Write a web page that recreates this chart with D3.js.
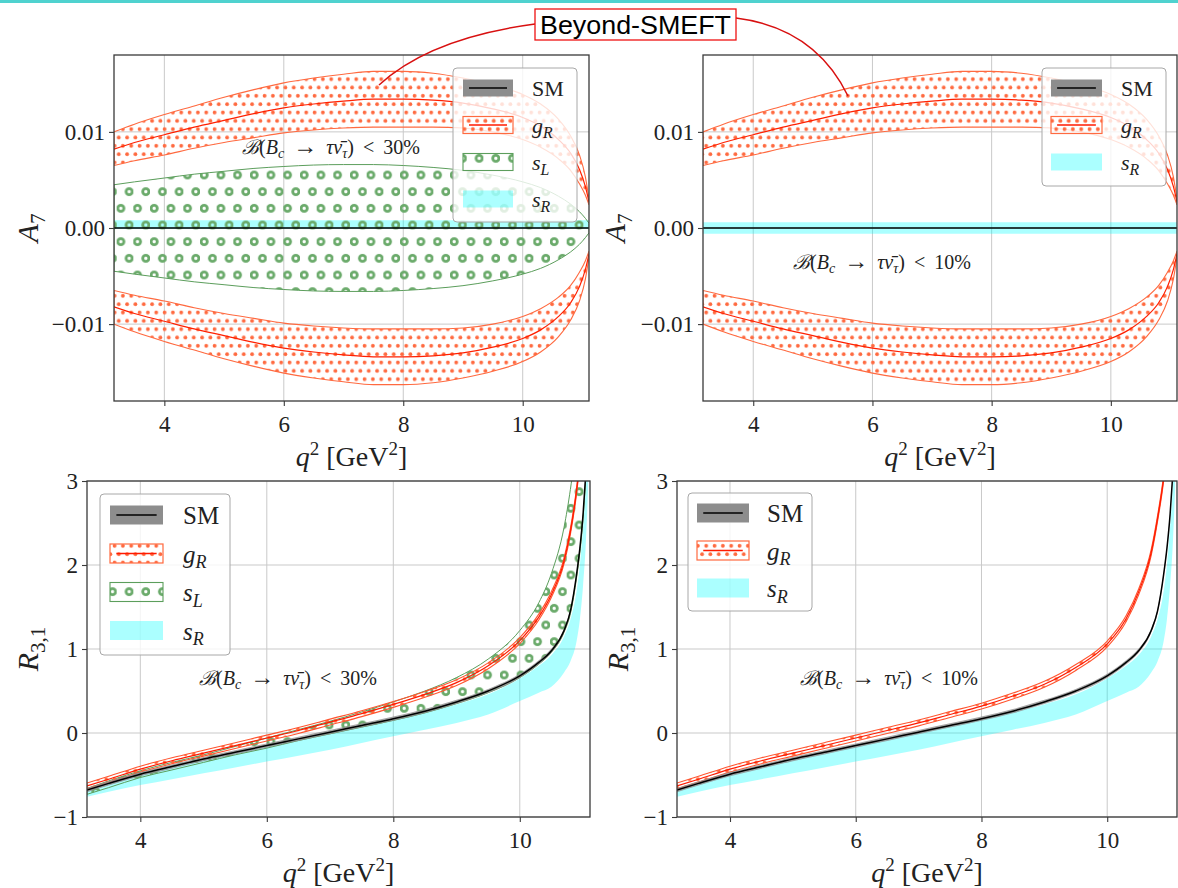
<!DOCTYPE html>
<html><head><meta charset="utf-8">
<script src="https://cdn.jsdelivr.net/npm/d3@7"></script>
<style>
html,body{margin:0;padding:0;background:#fff;}
svg{display:block;}
</style></head>
<body>
<svg id="c" width="1178" height="888"></svg>
<script>
// ---------------- data ----------------
// q^2 grid (GeV^2)
const qA = [3.157,3.5,4,4.5,5,5.5,6,6.5,7,7.5,8,8.5,9,9.5,10,10.3,10.6,10.8,10.95,11.05,11.11];
// A7 (x1e-3), g_R band (upper branch; lower branch is mirrored)
const A7_gR_outer  = [10.0,10.8,11.8,12.7,13.6,14.4,15.1,15.6,16.0,16.3,16.3,16.1,15.6,14.9,13.9,12.9,11.3,9.6,7.6,5.3,3.0];
const A7_gR_inner  = [6.5,7.0,7.6,8.3,8.9,9.4,9.9,10.2,10.4,10.5,10.5,10.5,10.4,10.0,9.2,8.4,7.2,6.0,4.6,3.4,2.4];
const A7_gR_center = [8.2,8.9,9.7,10.5,11.2,11.9,12.5,12.9,13.2,13.4,13.4,13.3,13.0,12.4,11.5,10.6,9.2,7.8,6.1,4.3,2.7];
// A7 s_L band upper edge (x1e-3), lower edge mirrored
const A7_sL_upper  = [4.5,4.8,5.2,5.6,5.9,6.2,6.4,6.55,6.6,6.6,6.5,6.3,6.0,5.5,4.8,4.2,3.3,2.5,1.7,1.0,0.5];
// A7 s_R thin band (x1e-3): [upper, lower]
const A7_sR_TL = [0.8,-0.1];
const A7_sR_TR = [0.6,-0.6];

// R_{3,1}
const qR = [3.157,3.5,4,4.5,5,5.5,6,6.5,7,7.5,8,8.5,9,9.5,10,10.3,10.5,10.7,10.8,10.9,10.95,11.0,11.04,11.08];
const R_SM      = [-0.68,-0.60,-0.49,-0.40,-0.31,-0.23,-0.15,-0.07,0.01,0.09,0.17,0.26,0.37,0.50,0.68,0.84,0.98,1.22,1.45,1.9,2.2,2.6,3.05,3.6];
const R_gR_L    = [-0.63,-0.55,-0.43,-0.33,-0.24,-0.15,-0.06,0.03,0.13,0.23,0.34,0.46,0.60,0.80,1.10,1.38,1.65,2.05,2.40,2.90,3.25,3.7,4.2,4.8];
const R_gR_R    = [-0.63,-0.55,-0.43,-0.33,-0.24,-0.15,-0.06,0.03,0.12,0.22,0.32,0.44,0.58,0.78,1.06,1.36,1.68,2.15,2.55,3.05,3.4,3.9,4.4,5.0];
const R_sL_up   = [-0.66,-0.57,-0.45,-0.35,-0.26,-0.16,-0.06,0.04,0.14,0.25,0.37,0.50,0.66,0.88,1.22,1.55,1.9,2.45,2.9,3.5,3.9,4.4,4.9,5.5];
const R_sL_lo   = [-0.73,-0.65,-0.53,-0.44,-0.35,-0.26,-0.18,-0.09,-0.01,0.07,0.15,0.24,0.35,0.48,0.66,0.82,0.96,1.20,1.42,1.86,2.15,2.55,3.0,3.5];
const R_sR_up   = [-0.69,-0.61,-0.50,-0.41,-0.32,-0.24,-0.16,-0.08,0.0,0.08,0.16,0.25,0.34,0.46,0.65,0.80,0.93,1.15,1.35,1.70,2.0,2.45,2.9,3.5];
const R_sR_lo   = [-0.76,-0.70,-0.62,-0.55,-0.48,-0.41,-0.34,-0.27,-0.20,-0.12,-0.04,0.04,0.12,0.22,0.38,0.48,0.55,0.72,0.85,1.10,1.35,1.75,2.2,2.9];

const xTicks = [4,6,8,10];
const yTicksA = [-0.01,0,0.01];
const yTickLabA = ["\u22120.01","0.00","0.01"];
const yTicksR = [-1,0,1,2,3];
const yTickLabR = ["\u22121","0","1","2","3"];

// ---------------- drawing ----------------
const SERIF = '"Liberation Serif", "DejaVu Serif", serif';
const SANS = '"Liberation Sans", Arial, sans-serif';
const svg = d3.select("#c");
const defs = svg.append("defs");

const dotCol = "#ff6a40";
const ringCol = "#6aaa6a";
function dotPattern(id){
  const p = defs.append("pattern").attr("id",id).attr("patternUnits","userSpaceOnUse")
    .attr("width",8.333).attr("height",16.667);
  [[2.08,4.17],[6.25,12.5]].forEach(c=>p.append("circle").attr("cx",c[0]).attr("cy",c[1]).attr("r",1.9).attr("fill",dotCol));
}
function ringPattern(id){
  const p = defs.append("pattern").attr("id",id).attr("patternUnits","userSpaceOnUse")
    .attr("width",16.667).attr("height",33.333);
  [[4.17,8.33],[12.5,25]].forEach(c=>p.append("circle").attr("cx",c[0]).attr("cy",c[1]).attr("r",3.1)
     .attr("fill","none").attr("stroke",ringCol).attr("stroke-width",2.8));
}
dotPattern("dots"); ringPattern("rings");

svg.append("rect").attr("x",0).attr("y",0).attr("width",1178).attr("height",3).attr("fill","#4fd2cf");

function txt(sel){ return sel.attr("font-family",SERIF).style("font-family",SERIF).style("fill","#222"); }

const xDom = [3.157, 11.11];
function panel(cfg){
  const g = svg.append("g");
  const x = d3.scaleLinear().domain(xDom).range([cfg.l, cfg.r]);
  const y = d3.scaleLinear().domain(cfg.yDom).range([cfg.b, cfg.t]);
  const cid = cfg.id+"clip";
  defs.append("clipPath").attr("id",cid).append("rect")
    .attr("x",cfg.l).attr("y",cfg.t).attr("width",cfg.r-cfg.l).attr("height",cfg.b-cfg.t);
  const grid = g.append("g");
  xTicks.forEach(v=>grid.append("line").attr("x1",x(v)).attr("x2",x(v)).attr("y1",cfg.t).attr("y2",cfg.b)
      .attr("stroke","#c9c9c9").attr("stroke-width",1));
  cfg.yTicks.forEach(v=>grid.append("line").attr("y1",y(v)).attr("y2",y(v)).attr("x1",cfg.l).attr("x2",cfg.r)
      .attr("stroke","#c9c9c9").attr("stroke-width",1));
  const plot = g.append("g").attr("clip-path",`url(#${cid})`);
  cfg.draw(plot, x, y);
  g.append("rect").attr("x",cfg.l).attr("y",cfg.t).attr("width",cfg.r-cfg.l).attr("height",cfg.b-cfg.t)
    .attr("fill","none").attr("stroke","#3a3a3a").attr("stroke-width",1.3);
  const ax = d3.axisBottom(x).tickValues(xTicks).tickSize(5).tickPadding(4).tickFormat(d3.format("d"));
  const gx = g.append("g").attr("transform",`translate(0,${cfg.b})`).call(ax);
  const ay = d3.axisLeft(y).tickValues(cfg.yTicks).tickSize(5).tickPadding(4)
      .tickFormat((d,i)=>cfg.yLab[i]);
  const gy = g.append("g").attr("transform",`translate(${cfg.l},0)`).call(ay);
  [gx,gy].forEach(a=>{
    a.attr("font-family",SERIF);
    a.select(".domain").remove();
    a.selectAll(".tick line").attr("stroke","#3a3a3a").attr("stroke-width",1.1);
    txt(a.selectAll(".tick text")).style("font-size","23px");
  });
  gx.selectAll(".tick text").attr("dy","0.95em");
  // x label
  const xl = txt(g.append("text")).attr("x",(cfg.l+cfg.r)/2).attr("y",cfg.b+65).attr("text-anchor","middle").style("font-size","28px");
  xl.append("tspan").style("font-style","italic").text("q");
  xl.append("tspan").style("font-size","19px").attr("dy",-11).text("2");
  xl.append("tspan").attr("dy",11).text(" [GeV");
  xl.append("tspan").style("font-size","19px").attr("dy",-11).text("2");
  xl.append("tspan").attr("dy",11).text("]");
  // y label
  const yl = txt(g.append("text")).attr("transform",`translate(${cfg.yLx},${(cfg.t+cfg.b)/2}) rotate(-90)`)
    .attr("text-anchor","middle").style("font-size","30px");
  yl.append("tspan").style("font-style","italic").text(cfg.yName[0]);
  yl.append("tspan").style("font-size","21px").attr("dy",7).text(cfg.yName[1]);
  // constraint note
  const nt = txt(g.append("text")).attr("x",cfg.note[0]).attr("y",cfg.note[1])
    .attr("text-anchor","middle").style("font-size","20px");
  nt.append("tspan").style("font-style","italic").text("\u212C");
  nt.append("tspan").text("(");
  nt.append("tspan").style("font-style","italic").text("B");
  nt.append("tspan").style("font-size","14px").attr("dy",4).style("font-style","italic").text("c");
  nt.append("tspan").attr("dy",-4).attr("dx",9).style("font-size","24px").text("\u2192");
  nt.append("tspan").attr("dx",9).style("font-style","italic").text("\u03C4\u03BD\u0304");
  nt.append("tspan").style("font-size","14px").attr("dy",4).style("font-style","italic").text("\u03C4");
  nt.append("tspan").attr("dy",-4).text(")");
  nt.append("tspan").attr("dx",9).text("<");
  nt.append("tspan").attr("dx",9).text(cfg.note[2]);
  // legend
  const L = cfg.leg;
  const lg = g.append("g");
  lg.append("rect").attr("x",L.x).attr("y",L.y).attr("width",L.w).attr("height",L.h).attr("rx",4)
    .attr("fill","#fff").attr("fill-opacity",0.8).attr("stroke","#a8a8a8").attr("stroke-width",1);
  L.items.forEach((it,i)=>{
    const cy = L.y + L.first + i*L.step;
    const px = L.px, pw = L.pw, ph = L.ph;
    if(it==="SM"){
      lg.append("rect").attr("x",px).attr("y",cy-ph/2).attr("width",pw).attr("height",ph).attr("fill","#8d8d8d");
      lg.append("line").attr("x1",px+pw*0.12).attr("x2",px+pw*0.88).attr("y1",cy).attr("y2",cy).attr("stroke","#000").attr("stroke-width",1.5);
    } else if(it==="gR"){
      lg.append("rect").attr("x",px).attr("y",cy-ph/2).attr("width",pw).attr("height",ph).attr("fill","url(#dots)")
        .attr("stroke","#ff6a40").attr("stroke-width",1.2);
      lg.append("line").attr("x1",px+pw*0.12).attr("x2",px+pw*0.88).attr("y1",cy).attr("y2",cy).attr("stroke","#ff1a00").attr("stroke-width",1.3);
    } else if(it==="sL"){
      lg.append("rect").attr("x",px).attr("y",cy-ph/2).attr("width",pw).attr("height",ph).attr("fill","url(#rings)")
        .attr("stroke","#5c9e5c").attr("stroke-width",1.1);
    } else {
      lg.append("rect").attr("x",px).attr("y",cy-ph/2).attr("width",pw).attr("height",ph).attr("fill","#00ffff").attr("fill-opacity",0.33);
    }
    const t = txt(lg.append("text")).attr("x",L.tx).attr("y",cy+L.fs*0.36).style("font-size",L.fs+"px");
    if(it==="SM") t.text("SM");
    else {
      t.append("tspan").style("font-style","italic").text(it==="gR"?"g":"s");
      t.append("tspan").style("font-style","italic").style("font-size",(L.fs*0.72)+"px").attr("dy",L.fs*0.22).text(it==="sL"?"L":"R");
    }
  });
}

function band(sel, x, y, xs, lo, hi, opt){
  const data = xs.map((v,i)=>({x:v, lo:lo[i], hi:hi[i]}));
  const area = d3.area().x(d=>x(d.x)).y0(d=>y(d.lo)).y1(d=>y(d.hi)).curve(d3.curveMonotoneX);
  sel.append("path").attr("d",area(data)).attr("fill",opt.fill).attr("fill-opacity",opt.fo==null?1:opt.fo)
    .attr("stroke",opt.stroke||"none").attr("stroke-width",opt.sw||1);
}
function line(sel, x, y, xs, ys, col, w){
  const l = d3.line().x((d,i)=>x(xs[i])).y(d=>y(d)).curve(d3.curveMonotoneX);
  sel.append("path").attr("d",l(ys)).attr("fill","none").attr("stroke",col).attr("stroke-width",w);
}
const sc = a=>a.map(v=>v*1e-3);
const neg = a=>a.map(v=>-v);
const zeros = qA.map(()=>0);

function drawA7(withSL, sRb){
  return function(p, x, y){
    band(p,x,y,qA, qA.map(()=>sRb[1]*1e-3), qA.map(()=>sRb[0]*1e-3), {fill:"#00ffff", fo:0.33});
    if(withSL){
      band(p,x,y,qA, neg(sc(A7_sL_upper)), sc(A7_sL_upper), {fill:"url(#rings)", stroke:"#5c9e5c", sw:1});
    }
    band(p,x,y,qA, sc(A7_gR_inner), sc(A7_gR_outer), {fill:"url(#dots)", stroke:"#ff6a40", sw:1.1});
    band(p,x,y,qA, neg(sc(A7_gR_outer)), neg(sc(A7_gR_inner)), {fill:"url(#dots)", stroke:"#ff6a40", sw:1.1});
    line(p,x,y,qA, sc(A7_gR_center), "#ff2000", 1.2);
    line(p,x,y,qA, neg(sc(A7_gR_center)), "#ff2000", 1.2);
    line(p,x,y,qA, zeros, "#000", 1.6);
  };
}
function drawR(withSL, gR){
  return function(p, x, y){
    band(p,x,y,qR, R_sR_lo, R_sR_up, {fill:"#00ffff", fo:0.33});
    if(withSL) band(p,x,y,qR, R_sL_lo, R_sL_up, {fill:"url(#rings)", stroke:"#5c9e5c", sw:1});
    band(p,x,y,qR, gR.map(v=>v-0.035), gR.map(v=>v+0.035), {fill:"url(#dots)", stroke:"#ff5530", sw:1.1});
    line(p,x,y,qR, gR, "#ff1a00", 1.2);
    band(p,x,y,qR, R_SM.map(v=>v-0.025), R_SM.map(v=>v+0.025), {fill:"#8d8d8d", fo:0.8});
    line(p,x,y,qR, R_SM, "#000", 1.5);
  };
}

panel({id:"tl", l:114, r:589, t:55, b:401, yDom:[-0.018,0.018], yTicks:yTicksA, yLab:yTickLabA,
  yName:["A","7"], yLx:38, note:[331,154,"30%"], draw:drawA7(true, A7_sR_TL),
  leg:{x:453,y:68,w:124,h:154,first:20,step:37,px:463,pw:50,ph:17,tx:532,fs:22,items:["SM","gR","sL","sR"]}});
panel({id:"tr", l:703, r:1177, t:55, b:401, yDom:[-0.018,0.018], yTicks:yTicksA, yLab:yTickLabA,
  yName:["A","7"], yLx:625, note:[882,269,"10%"], draw:drawA7(false, A7_sR_TR),
  leg:{x:1042,y:68,w:124,h:118,first:20,step:37,px:1051,pw:51,ph:17,tx:1121,fs:22,items:["SM","gR","sR"]}});
panel({id:"bl", l:87, r:590, t:481, b:817, yDom:[-1,3], yTicks:yTicksR, yLab:yTickLabR,
  yName:["R","3,1"], yLx:38, note:[288,685,"30%"], draw:drawR(true, R_gR_L),
  leg:{x:100,y:494,w:130,h:161,first:21,step:38.5,px:110,pw:53,ph:19,tx:183,fs:25,items:["SM","gR","sL","sR"]}});
panel({id:"br", l:677, r:1177, t:481, b:817, yDom:[-1,3], yTicks:yTicksR, yLab:yTickLabR,
  yName:["R","3,1"], yLx:628, note:[889,685,"10%"], draw:drawR(false, R_gR_R),
  leg:{x:688,y:493,w:124,h:118,first:20,step:37.5,px:697,pw:52,ph:19,tx:767,fs:25,items:["SM","gR","sR"]}});

// Beyond-SMEFT annotation
const ann = svg.append("g");
ann.append("path").attr("d","M535,24 Q430,38 379,85").attr("fill","none").attr("stroke","#d81010").attr("stroke-width",1.5);
ann.append("path").attr("d","M736,18 Q815,28 848,96").attr("fill","none").attr("stroke","#d81010").attr("stroke-width",1.5);
ann.append("rect").attr("x",535).attr("y",9).attr("width",201).attr("height",31).attr("fill","#fff").attr("stroke","#ee1111").attr("stroke-width",1.3);
ann.append("text").attr("x",540).attr("y",34).attr("textLength",191).attr("lengthAdjust","spacingAndGlyphs")
  .style("font-size","26px").style("font-family",SANS).style("fill","#000").text("Beyond-SMEFT");
</script>
</body></html>
